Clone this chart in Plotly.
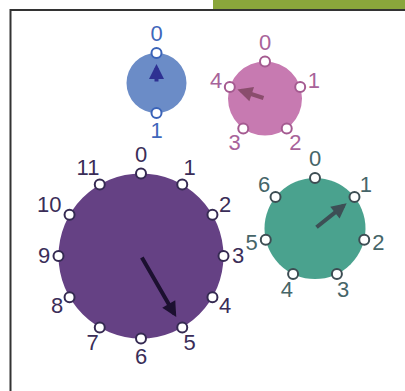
import math
import plotly.graph_objects as go

# Dial data: number of positions on each dial and the position its hand points at
dial_sizes = [2, 5, 12, 7]
dial_values = [0, 4, 5, 1]

# Placement (pixel-like coords, y down) and styling, kept apart from the data
CENTERS = [(156.5, 83), (265, 98.5), (141, 256), (315, 228.5)]
RADII = [30, 37, 82.5, 50.5]
FILLS = ["#6b8cc7", "#c77ab1", "#654184", "#4aa28e"]
NODE_LINES = ["#3a63b8", "#a45a90", "#352a52", "#3d4d53"]
LABEL_COLORS = ["#3f67bb", "#a8639a", "#3a2d58", "#466568"]
HAND_COLORS = ["#2e3192", "#8a4d6d", "#1c1030", "#3d4f55"]
HAND_GAP = [11, 8, 12, 10]
LABEL_PAD_X, LABEL_PAD_Y = 14.5, 18.5

W, H = 405, 391
FONT = "Liberation Sans, Arial, sans-serif"

fig = go.Figure()
shapes = []
annotations = []

for i, n in enumerate(dial_sizes):
    cx, cy = CENTERS[i]
    r = RADII[i]
    shapes.append(dict(type="circle", xref="x", yref="y",
                       x0=cx - r, x1=cx + r, y0=cy - r, y1=cy + r,
                       fillcolor=FILLS[i], line_width=0, layer="below"))

    labels = [str(k) for k in range(n)]
    angles = [2 * math.pi * k / n for k in range(n)]
    nx = [cx + r * math.sin(a) for a in angles]
    ny = [cy - r * math.cos(a) for a in angles]
    # wider labels sit a little further out sideways
    lx = [cx + (r + LABEL_PAD_X + 9 * (len(t) - 1)) * math.sin(a)
          for a, t in zip(angles, labels)]
    ly = [cy - (r + LABEL_PAD_Y) * math.cos(a) + 1 for a in angles]

    fig.add_trace(go.Scatter(
        x=lx, y=ly, mode="text", text=labels,
        textposition="middle center",
        textfont=dict(family=FONT, size=22, color=LABEL_COLORS[i]),
        hoverinfo="skip", showlegend=False,
    ))

    # hand
    a = angles[dial_values[i]]
    hl = r - HAND_GAP[i]
    annotations.append(dict(
        x=cx + hl * math.sin(a), y=cy - hl * math.cos(a),
        ax=cx, ay=cy, xref="x", yref="y", axref="x", ayref="y",
        text="", showarrow=True, arrowhead=2, arrowsize=0.75,
        arrowwidth=4, arrowcolor=HAND_COLORS[i], standoff=0,
    ))

    fig.add_trace(go.Scatter(
        x=nx, y=ny, mode="markers",
        marker=dict(size=10, color="white",
                    line=dict(color=NODE_LINES[i], width=2)),
        hoverinfo="skip", showlegend=False,
    ))

# frame and top bar
shapes.append(dict(type="rect", xref="x", yref="y", x0=213, x1=W + 5, y0=-5, y1=9,
                   fillcolor="#8aa63b", line_width=0, layer="below"))
shapes.append(dict(type="rect", xref="x", yref="y", x0=10.5, x1=W + 20, y0=10, y1=H + 20,
                   fillcolor="rgba(0,0,0,0)", line=dict(color="#333333", width=2),
                   layer="below"))

fig.update_layout(
    width=W, height=H,
    margin=dict(l=0, r=0, t=0, b=0),
    paper_bgcolor="white", plot_bgcolor="white",
    shapes=shapes, annotations=annotations,
    xaxis=dict(range=[0, W], visible=False, fixedrange=True),
    yaxis=dict(range=[H, 0], visible=False, fixedrange=True),
    showlegend=False,
)

fig.write_html("out.html", config={"displayModeBar": False},
               post_script="document.body.style.margin='0';")
